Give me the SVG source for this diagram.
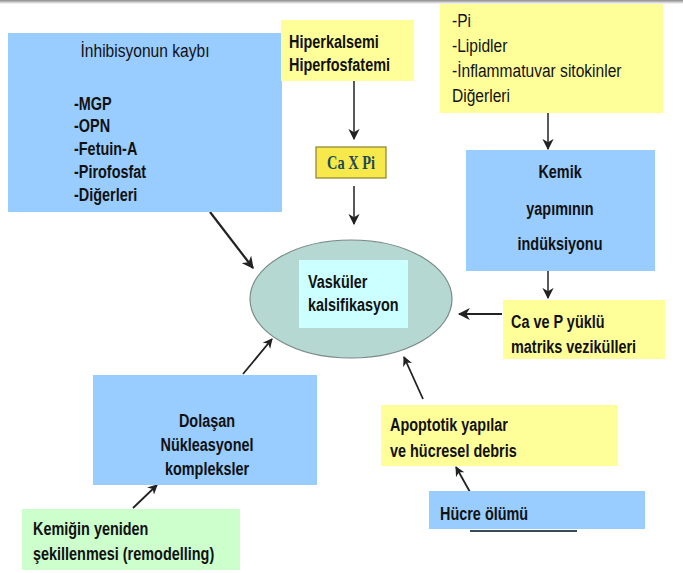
<svg xmlns="http://www.w3.org/2000/svg" width="683" height="573" viewBox="0 0 683 573">
<defs>
<linearGradient id="topbar" x1="0" y1="0" x2="0" y2="1">
<stop offset="0" stop-color="#8a8a8a"/>
<stop offset="1" stop-color="#ffffff"/>
</linearGradient>
<marker id="ah" viewBox="0 0 10 10" refX="9" refY="5" markerWidth="5.5" markerHeight="5.5" orient="auto-start-reverse" markerUnits="strokeWidth">
<path d="M0,0 L10,5 L0,10 L3,5 z" fill="#222"/>
</marker>
<marker id="ahs" viewBox="0 0 10 10" refX="9" refY="5" markerWidth="7.5" markerHeight="7.5" orient="auto-start-reverse" markerUnits="strokeWidth">
<path d="M0,0 L10,5 L0,10 L3,5 z" fill="#222"/>
</marker>
</defs>
<style>
text{font-family:"Liberation Sans",Arial,sans-serif;font-size:19px;fill:#111;transform-box:fill-box;transform-origin:0 50%;transform:scaleX(0.82);}
.b{font-weight:bold;transform:scaleX(0.76);}
.c{text-anchor:middle;transform-origin:50% 50%;}
.blue{fill:#99ccff;}
.yel{fill:#ffff99;}
.grn{fill:#ccffcc;}
.con{stroke:#222;fill:none;}
</style>
<rect x="0" y="0" width="683" height="4" fill="url(#topbar)"/>

<g id="connectors">
<line class="con" x1="210" y1="212" x2="253" y2="268" stroke-width="2.2" marker-end="url(#ah)"/>
<line class="con" x1="354" y1="81" x2="354" y2="139" stroke-width="1.5" marker-end="url(#ahs)"/>
<line class="con" x1="354" y1="186" x2="354" y2="224" stroke-width="1.5" marker-end="url(#ahs)"/>
<line class="con" x1="548" y1="113" x2="548" y2="149" stroke-width="1.5" marker-end="url(#ahs)"/>
<line class="con" x1="548" y1="271" x2="548" y2="298" stroke-width="1.5" marker-end="url(#ahs)"/>
<line class="con" x1="502" y1="314" x2="459" y2="314" stroke-width="2.2" marker-end="url(#ah)"/>
<line class="con" x1="243" y1="374" x2="272" y2="339" stroke-width="1.8" marker-end="url(#ah)"/>
<line class="con" x1="423" y1="399" x2="404" y2="357" stroke-width="1.8" marker-end="url(#ah)"/>
<line class="con" x1="470" y1="492" x2="456" y2="467" stroke-width="1.8" marker-end="url(#ah)"/>
<line class="con" x1="133" y1="508" x2="157" y2="485" stroke-width="1.8" marker-end="url(#ah)"/>
</g>

<g id="inhibisyon">
<rect class="blue" x="8" y="33" width="274" height="179"/>
<text x="145" y="57" class="c">İnhibisyonun kaybı</text>
<text x="74" y="110" class="b">-MGP</text>
<text x="74" y="132" class="b">-OPN</text>
<text x="74" y="155" class="b">-Fetuin-A</text>
<text x="74" y="178" class="b">-Pirofosfat</text>
<text x="74" y="201" class="b">-Diğerleri</text>
</g>

<g id="hiperkalsemi">
<rect class="yel" x="281" y="20" width="133" height="61"/>
<text x="289" y="48" class="b">Hiperkalsemi</text>
<text x="289" y="71" class="b">Hiperfosfatemi</text>
</g>

<g id="pi-lipid">
<rect class="yel" x="440" y="4" width="223" height="109"/>
<text x="452" y="27">-Pi</text>
<text x="452" y="52">-Lipidler</text>
<text x="452" y="77">-İnflammatuvar sitokinler</text>
<text x="452" y="102">Diğerleri</text>
</g>

<g id="caxpi">
<rect x="316" y="147" width="70" height="31" fill="#f7e94c" stroke="#8c8030" stroke-width="1.2"/>
<text x="351" y="169" class="c b" style="font-family:'Liberation Serif','Times New Roman',serif;font-size:18px;fill:#1d4a58;transform:scaleX(0.8)">Ca X Pi</text>
</g>

<g id="kemik">
<rect class="blue" x="466" y="150" width="189" height="121"/>
<text x="560" y="178" class="c b">Kemik</text>
<text x="560" y="215" class="c b">yapımının</text>
<text x="560" y="250" class="c b">indüksiyonu</text>
</g>

<g id="vaskuler">
<ellipse cx="351" cy="299" rx="101" ry="59" fill="#b5d8d2" stroke="#7a8a88" stroke-width="1.2"/>
<rect x="299" y="260" width="109" height="68" fill="#ccffff"/>
<text x="308" y="288" class="b">Vasküler</text>
<text x="308" y="311" class="b">kalsifikasyon</text>
</g>

<g id="matriks">
<rect class="yel" x="503" y="300" width="162" height="59"/>
<text x="511" y="328" class="b">Ca ve P yüklü</text>
<text x="511" y="353" class="b">matriks vezikülleri</text>
</g>

<g id="dolasan">
<rect class="blue" x="93" y="375" width="224" height="110"/>
<text x="207" y="427" class="c b">Dolaşan</text>
<text x="207" y="451" class="c b">Nükleasyonel</text>
<text x="207" y="475" class="c b">kompleksler</text>
</g>

<g id="apoptotik">
<rect class="yel" x="381" y="405" width="237" height="61"/>
<text x="390" y="431" class="b">Apoptotik yapılar</text>
<text x="390" y="457" class="b">ve hücresel debris</text>
</g>

<g id="hucre">
<rect class="blue" x="429" y="491" width="216" height="38"/>
<line x1="470" y1="531" x2="577" y2="531" stroke="#3a4a5a" stroke-width="2"/>
<text x="440" y="520" class="b">Hücre ölümü</text>
</g>

<g id="kemigin">
<rect class="grn" x="22" y="509" width="218" height="61"/>
<text x="33" y="535" class="b">Kemiğin yeniden</text>
<text x="33" y="560" class="b">şekillenmesi (remodelling)</text>
</g>
</svg>
